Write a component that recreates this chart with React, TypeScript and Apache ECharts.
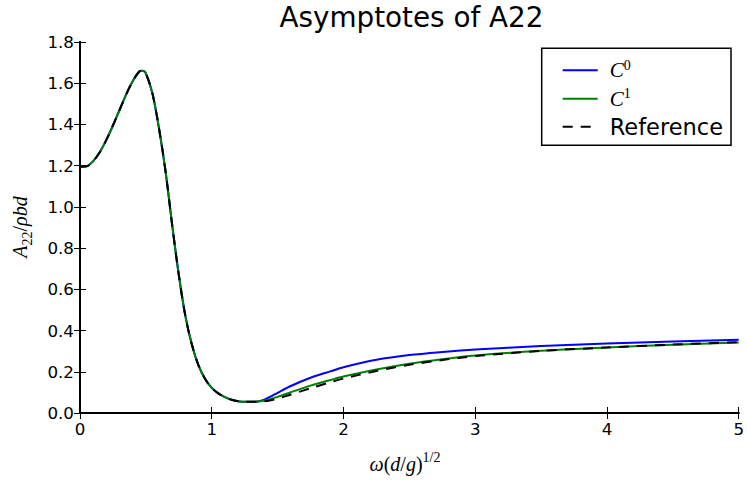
import { useEffect, useRef } from "react";
import * as echarts from "echarts";

// Frequency samples where all three curves coincide
const xShared = [
  0, 0.05, 0.1, 0.15, 0.2, 0.25, 0.3, 0.35, 0.4, 0.45, 0.475, 0.5, 0.55, 0.6, 0.65,
  0.7, 0.75, 0.8, 0.85, 0.9, 0.95, 1.0, 1.05, 1.1, 1.15, 1.2, 1.25, 1.3, 1.35,
];
const yShared = [
  1.195, 1.197, 1.222, 1.265, 1.325, 1.395, 1.47, 1.545, 1.61, 1.657, 1.661, 1.648, 1.55, 1.38, 1.17,
  0.91, 0.67, 0.47, 0.33, 0.23, 0.165, 0.122, 0.095, 0.077, 0.064, 0.057, 0.054, 0.054, 0.056,
];

// Frequency samples beyond the point where the asymptotes separate
const xTail = [1.4, 1.45, 1.5, 1.6, 1.75, 1.9, 2.0, 2.25, 2.5, 2.75, 3.0, 3.5, 4.0, 4.5, 5.0];
const c0Tail = [0.065, 0.081, 0.098, 0.131, 0.171, 0.202, 0.222, 0.258, 0.281, 0.296, 0.308, 0.325, 0.337, 0.347, 0.355];
const c1Tail = [0.06, 0.068, 0.078, 0.101, 0.133, 0.16, 0.177, 0.211, 0.239, 0.261, 0.279, 0.302, 0.318, 0.331, 0.342];
const refTail = [0.057, 0.062, 0.069, 0.09, 0.12, 0.149, 0.167, 0.204, 0.234, 0.257, 0.276, 0.301, 0.318, 0.332, 0.344];

const seriesNames = ["C0", "C1", "Reference"];

const pairs = (xs: number[], ys: number[]) => xs.map((x, i) => [x, ys[i]]);
const curve = (tail: number[]) => [...pairs(xShared, yShared), ...pairs(xTail, tail)];

const SANS = "DejaVu Sans";
const SERIF = "Liberation Serif";

export default function App() {
  const ref = useRef<HTMLDivElement>(null);

  useEffect(() => {
    if (!ref.current) return;
    const chart = echarts.init(ref.current, undefined, { renderer: "svg" });

    const frame = {
      axisLine: { show: true, lineStyle: { color: "#000", width: 2 } },
      axisTick: { show: true, inside: true, length: 6, lineStyle: { color: "#000", width: 1 } },
      splitLine: { show: false },
    };

    const mathRich = {
      m: { fontFamily: SERIF, fontStyle: "italic" as const, fontSize: 20, lineHeight: 28, color: "#000" },
      r: { fontFamily: SERIF, fontSize: 20, lineHeight: 28, color: "#000" },
      sup: { fontFamily: SERIF, fontSize: 14, lineHeight: 14, verticalAlign: "top" as const, color: "#000" },
      sub: { fontFamily: SERIF, fontSize: 14, lineHeight: 14, verticalAlign: "bottom" as const, color: "#000" },
    };

    chart.setOption({
      animation: false,
      backgroundColor: "#fff",
      grid: { left: 80, top: 42, right: 4, bottom: 67, containLabel: false },
      xAxis: [
        {
          type: "value",
          min: 0,
          max: 5,
          interval: 1,
          position: "bottom",
          ...frame,
          axisLabel: { color: "#000", fontFamily: SANS, fontSize: 16.7, margin: 7 },
        },
        {
          type: "value",
          min: 0,
          max: 5,
          interval: 1,
          position: "top",
          ...frame,
          axisLabel: { show: false },
        },
      ],
      yAxis: [
        {
          type: "value",
          min: 0,
          max: 1.8,
          interval: 0.2,
          position: "left",
          ...frame,
          axisLabel: {
            color: "#000",
            fontFamily: SANS,
            fontSize: 16.7,
            margin: 6,
            formatter: (v: number) => v.toFixed(1),
          },
        },
        {
          type: "value",
          min: 0,
          max: 1.8,
          interval: 0.2,
          position: "right",
          ...frame,
          axisLabel: { show: false },
        },
      ],
      legend: {
        orient: "vertical",
        left: 541.7,
        top: 48.3,
        padding: [10, 8, 7, 20],
        itemWidth: 35,
        itemHeight: 24,
        itemGap: 6,
        backgroundColor: "#fff",
        borderColor: "#000",
        borderWidth: 1.5,
        borderRadius: 0,
        data: seriesNames.map((name) => ({ name, itemStyle: { opacity: 0 } })),
        formatter: (name: string) =>
          name === "C0" ? "{c|C}{s|0}" : name === "C1" ? "{c|C}{s|1}" : "{t|" + name + "}",
        textStyle: {
          padding: [0, 0, 0, 7],
          rich: {
            c: { fontFamily: SERIF, fontStyle: "italic", fontSize: 21, lineHeight: 24, color: "#000" },
            s: { fontFamily: SERIF, fontSize: 14, lineHeight: 14, verticalAlign: "top", color: "#000" },
            t: { fontFamily: SANS, fontSize: 22.5, lineHeight: 24, color: "#000" },
          },
        },
      },
      series: [
        {
          name: "C0",
          type: "line",
          data: curve(c0Tail),
          smooth: 0.3,
          symbol: "none",
          lineStyle: { color: "#0000ff", width: 2 },
          itemStyle: { color: "#0000ff" },
        },
        {
          name: "C1",
          type: "line",
          data: curve(c1Tail),
          smooth: 0.3,
          symbol: "none",
          lineStyle: { color: "#008000", width: 2 },
          itemStyle: { color: "#008000" },
        },
        {
          name: "Reference",
          type: "line",
          data: curve(refTail),
          smooth: 0.3,
          symbol: "none",
          lineStyle: { color: "#000", width: 2, type: [10, 8] },
          itemStyle: { color: "#000" },
        },
      ],
      graphic: [
        {
          type: "text",
          x: 411.5,
          y: 17,
          style: {
            text: "Asymptotes of A22",
            fontFamily: SANS,
            fontSize: 27.8,
            fill: "#000",
            align: "center",
            verticalAlign: "middle",
          },
        },
        {
          type: "text",
          x: 405,
          y: 464,
          style: {
            text: "{m|ω}{r|(}{m|d}{r|/}{m|g}{r|)}{sup|1/2}",
            rich: mathRich,
            align: "center",
            verticalAlign: "middle",
          },
        },
        {
          type: "text",
          x: 20,
          y: 227,
          rotation: Math.PI / 2,
          style: {
            text: "{m|A}{sub|22}{r|/}{m|ρbd}",
            rich: mathRich,
            align: "center",
            verticalAlign: "middle",
          },
        },
      ],
    });

    return () => chart.dispose();
  }, []);

  return (
    <div
      ref={ref}
      style={{ position: "absolute", left: 0, top: 0, width: 747, height: 480 }}
    />
  );
}
